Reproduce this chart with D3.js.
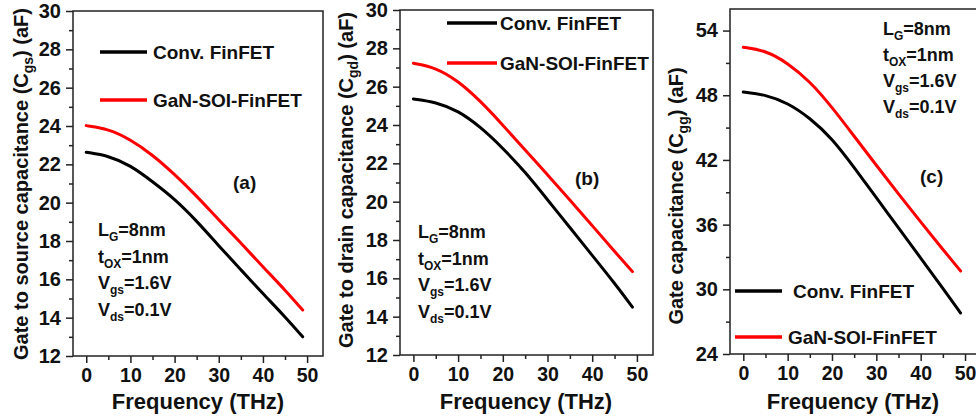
<!DOCTYPE html>
<html><head><meta charset="utf-8">
<script src="https://cdn.jsdelivr.net/npm/d3@7"></script>
<style>
html,body{margin:0;padding:0;background:#fff;}
svg{display:block;font-family:"Liberation Sans",Arial,sans-serif;font-weight:bold;}
</style></head>
<body><svg id="c" width="976" height="419"></svg>
<script>
// ---- data ----
const freq = [0, 5, 10, 15, 20, 25, 30, 35, 40, 45, 49];
const cgsConv = [22.63, 22.45, 21.95, 21.1, 20.2, 19.05, 17.75, 16.5, 15.25, 14.05, 13.0];
const cgsGaN  = [24.02, 23.85, 23.3, 22.5, 21.48, 20.35, 19.1, 17.9, 16.65, 15.45, 14.4];
const cgdConv = [25.36, 25.2, 24.75, 23.9, 22.8, 21.55, 20.1, 18.65, 17.2, 15.75, 14.5];
const cgdGaN  = [27.22, 27.0, 26.3, 25.25, 24.0, 22.7, 21.4, 20.1, 18.75, 17.4, 16.35];
const cggConv = [48.3, 48.05, 47.3, 45.9, 44.0, 41.3, 38.5, 35.7, 32.9, 30.1, 27.8];
const cggGaN  = [52.45, 52.15, 51.0, 49.3, 46.9, 44.2, 41.5, 38.85, 36.25, 33.7, 31.7];
const xTicks = [0, 10, 20, 30, 40, 50];
const yTicksAB = [12, 14, 16, 18, 20, 22, 24, 26, 28, 30];
const yTicksC = [24, 30, 36, 42, 48, 54];
const seriesNames = ["Conv. FinFET", "GaN-SOI-FinFET"];
const seriesColors = ["#000000", "#ff0000"];
const params = [["L", "G", "=8nm"], ["t", "OX", "=1nm"], ["V", "gs", "=1.6V"], ["V", "ds", "=0.1V"]];

const svg = d3.select("#c");
const FF = '"Liberation Sans",Arial,sans-serif';

function panel(cfg) {
  const g = svg.append("g");
  const x = d3.scaleLinear().domain([-3, 53.6]).range([cfg.left, cfg.left + cfg.w]);
  const y = d3.scaleLinear().domain(cfg.yDomain).range([cfg.bottom, cfg.top]);

  // frame
  g.append("rect").attr("x", cfg.left).attr("y", cfg.top)
    .attr("width", cfg.w).attr("height", cfg.bottom - cfg.top)
    .attr("fill", "none").attr("stroke", "#222").attr("stroke-width", 1.5);

  const xMinor = d3.range(5, 50, 10);
  const xa = g.append("g").attr("transform", `translate(0,${cfg.bottom})`)
    .call(d3.axisBottom(x).tickValues(xMinor).tickSize(4).tickFormat(""));
  const xA = g.append("g").attr("transform", `translate(0,${cfg.bottom})`)
    .call(d3.axisBottom(x).tickValues(xTicks).tickSize(7).tickPadding(5).tickFormat(d3.format("d")));
  const ya = g.append("g").attr("transform", `translate(${cfg.left},0)`)
    .call(d3.axisLeft(y).tickValues(cfg.yMinor).tickSize(4).tickFormat(""));
  const yA = g.append("g").attr("transform", `translate(${cfg.left},0)`)
    .call(d3.axisLeft(y).tickValues(cfg.yTicks).tickSize(7).tickPadding(5).tickFormat(d3.format("d")));
  [xa, xA, ya, yA].forEach(a => {
    a.select(".domain").remove();
    a.selectAll("line").attr("stroke", "#222").attr("stroke-width", 1.5);
    a.selectAll("text").attr("fill", "#111").style("font-size", "20px")
      .style("font-family", FF).style("font-weight", "bold");
  });
  xA.selectAll("text").style("font-size", "19.5px");

  // lines
  const line = d3.line().x((d, i) => x(freq[i])).y(d => y(d)).curve(d3.curveBasis);
  cfg.series.forEach((s, i) => {
    g.append("path").datum(s).attr("d", line).attr("fill", "none")
      .attr("stroke", seriesColors[i]).attr("stroke-width", 3).attr("stroke-linecap", "round");
  });

  // x title
  g.append("text").attr("x", cfg.left + cfg.xTitleDx).attr("y", 409).attr("text-anchor", "middle")
    .style("font-size", "22px").attr("fill", "#111").text("Frequency (THz)");

  // y title
  const yt = g.append("text").attr("transform", `translate(${cfg.ytX},${cfg.ytY}) rotate(-90)`)
    .attr("text-anchor", "middle").style("font-size", "20px").attr("fill", "#111");
  yt.append("tspan").text(cfg.yTitle[0]);
  yt.append("tspan").attr("dy", 5).style("font-size", "14px").text(cfg.yTitle[1]);
  yt.append("tspan").attr("dy", -5).text(cfg.yTitle[2]);

  // legend
  cfg.legend.forEach((L, i) => {
    g.append("line").attr("x1", L.x1).attr("x2", L.x2).attr("y1", L.y).attr("y2", L.y)
      .attr("stroke", seriesColors[i]).attr("stroke-width", 3.5);
    g.append("text").attr("x", L.tx).attr("y", L.y + 6.5).style("font-size", "19px")
      .attr("fill", "#111").text(seriesNames[i]);
  });

  // label
  g.append("text").attr("x", cfg.lab[0]).attr("y", cfg.lab[1]).style("font-size", "19px")
    .attr("fill", "#111").text(cfg.lab[2]);

  // params
  params.forEach((p, i) => {
    const t = g.append("text").attr("x", cfg.par[0]).attr("y", cfg.par[1] + i * cfg.par[2])
      .style("font-size", "18px").attr("fill", "#111");
    t.append("tspan").text(p[0]);
    t.append("tspan").attr("dy", 5).style("font-size", "12px").text(p[1]);
    t.append("tspan").attr("dy", -5).text(p[2]);
  });
}

panel({
  left: 73, w: 250, top: 11, bottom: 356, yDomain: [12, 30], yTicks: yTicksAB,
  yMinor: d3.range(13, 30, 2), series: [cgsConv, cgsGaN], xTitleDx: 125,
  yTitle: ["Gate to source capacitance (C", "gs", ") (aF)"], ytX: 28, ytY: 184,
  legend: [{x1: 100, x2: 147, y: 52, tx: 153}, {x1: 100, x2: 147, y: 100, tx: 153}],
  lab: [233, 189, "(a)"], par: [98, 236, 26.7]
});
panel({
  left: 400, w: 253, top: 10, bottom: 355, yDomain: [12, 30], yTicks: yTicksAB,
  yMinor: d3.range(13, 30, 2), series: [cgdConv, cgdGaN], xTitleDx: 126,
  yTitle: ["Gate to drain capacitance (C", "gd", ") (aF)"], ytX: 353, ytY: 180,
  legend: [{x1: 447, x2: 497, y: 23, tx: 500}, {x1: 447, x2: 497, y: 63, tx: 500}],
  lab: [575, 185, "(b)"], par: [418, 238, 26.7]
});
panel({
  left: 730, w: 251, top: 9, bottom: 354, yDomain: [24, 56], yTicks: yTicksC,
  yMinor: d3.range(27, 56, 6), series: [cggConv, cggGaN], xTitleDx: 123,
  yTitle: ["Gate capacitance (C", "gg", ") (aF)"], ytX: 683, ytY: 196,
  legend: [{x1: 735, x2: 782, y: 291, tx: 793}, {x1: 735, x2: 782, y: 337, tx: 788}],
  lab: [920, 183, "(c)"], par: [883, 35, 26]
});
</script></body></html>
